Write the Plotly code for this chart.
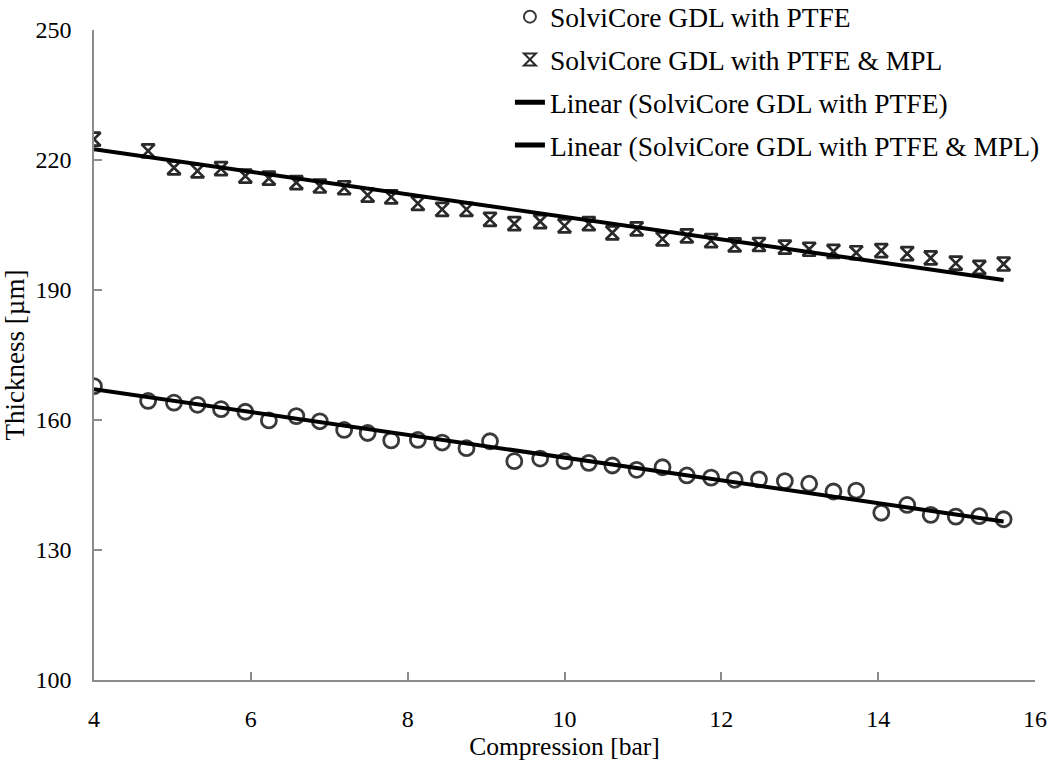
import plotly.graph_objects as go

# Compression steps [bar]
compression = [4.0, 4.69, 5.02, 5.32, 5.62, 5.93, 6.23, 6.58, 6.88, 7.19, 7.49, 7.79,
               8.13, 8.44, 8.75, 9.05, 9.36, 9.69, 10.0, 10.31, 10.61, 10.92, 11.25,
               11.56, 11.87, 12.17, 12.48, 12.81, 13.12, 13.43, 13.72, 14.04, 14.37,
               14.67, 14.99, 15.29, 15.6]

# Thickness [µm] of GDL with PTFE
thick_ptfe = [167.8, 164.4, 164.0, 163.5, 162.5, 161.9, 159.9, 160.9, 159.7, 157.7, 157.0,
              155.3, 155.4, 154.8, 153.5, 155.1, 150.5, 151.1, 150.5, 150.1, 149.5, 148.5,
              149.1, 147.2, 146.7, 146.2, 146.3, 145.9, 145.3, 143.5, 143.7, 138.6, 140.4,
              138.1, 137.7, 137.8, 137.1]

# Thickness [µm] of GDL with PTFE & MPL
thick_ptfe_mpl = [224.8, 222.1, 218.2, 217.5, 218.0, 216.3, 215.8, 214.8, 214.0, 213.6, 211.9,
                  211.5, 210.0, 208.6, 208.6, 206.3, 205.3, 205.8, 204.8, 205.3, 203.2, 204.1,
                  201.8, 202.5, 201.4, 200.4, 200.5, 199.9, 199.4, 198.9, 198.6, 199.1, 198.4,
                  197.4, 196.2, 195.2, 196.0]

# Linear trend lines: thickness at the first and last compression step
trend_x = [4.0, 15.6]
trend_ptfe = [167.1, 136.6]
trend_ptfe_mpl = [222.5, 192.3]

names = ["SolviCore GDL with PTFE", "SolviCore GDL with PTFE & MPL"]

FONT = "Liberation Serif"
AXIS_GREY = "#8c8c8c"

fig = go.Figure()

fig.add_trace(go.Scatter(
    x=compression, y=thick_ptfe, mode="markers", name=names[0], legendgroup="a",
    marker=dict(symbol="circle-open", size=15, color="#3a3a3a", line=dict(width=2.8, color="#3a3a3a")),
))
fig.add_trace(go.Scatter(
    x=compression, y=thick_ptfe_mpl, mode="markers", name=names[1], legendgroup="b",
    marker=dict(symbol="hourglass-open", size=13, color="#2a2a2a", line=dict(width=2.7, color="#2a2a2a")),
))
fig.add_trace(go.Scatter(
    x=trend_x, y=trend_ptfe, mode="lines", name=f"Linear ({names[0]})", legendgroup="c",
    line=dict(color="black", width=4),
))
fig.add_trace(go.Scatter(
    x=trend_x, y=trend_ptfe_mpl, mode="lines", name=f"Linear ({names[1]})", legendgroup="d",
    line=dict(color="black", width=4),
))

fig.update_layout(
    width=1047, height=775,
    margin=dict(l=94, r=12, t=30, b=95, autoexpand=False),
    paper_bgcolor="white", plot_bgcolor="white",
    font=dict(family=FONT, size=25, color="black"),
    legend=dict(
        x=0.442, y=1.058, xanchor="left", yanchor="top",
        bgcolor="rgba(0,0,0,0)", font=dict(family=FONT, size=27.5),
        tracegroupgap=4, traceorder="grouped", itemsizing="constant",
    ),
    showlegend=True,
)

fig.update_xaxes(
    range=[4, 16], dtick=2, tick0=4,
    showgrid=False, zeroline=False,
    showline=True, linecolor=AXIS_GREY, linewidth=1.5,
    ticks="inside", ticklen=8, tickwidth=1.5, tickcolor=AXIS_GREY,
    tickfont=dict(family=FONT, size=24),
    ticklabelstandoff=16,
    title=dict(text="Compression [bar]", font=dict(family=FONT, size=25.5), standoff=0),
)
fig.update_yaxes(
    range=[100, 250], dtick=30, tick0=100,
    showgrid=False, zeroline=False,
    showline=True, linecolor=AXIS_GREY, linewidth=1.5,
    ticks="inside", ticklen=8, tickwidth=1.5, tickcolor=AXIS_GREY,
    tickfont=dict(family=FONT, size=24),
    ticklabelstandoff=16,
    title=dict(text="Thickness [µm]", font=dict(family=FONT, size=27), standoff=3),
)

fig.write_html("out.html")
